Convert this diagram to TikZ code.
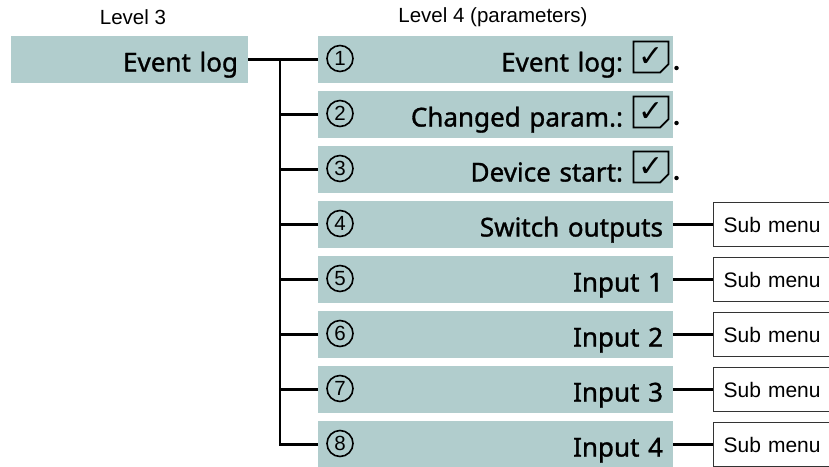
\documentclass[tikz,border=0pt]{standalone}
\usepackage{fontspec}
\setmainfont{Liberation Sans}
\newfontfamily\boxfont[FakeBold=1.2]{Noto Sans}
\newfontfamily\symfont{DejaVu Sans}
\usetikzlibrary{shapes.misc}
\definecolor{menuteal}{RGB}{177,205,205}

\tikzset{
    levelbox/.style={rectangle, fill=menuteal, minimum height=47pt, align=right, inner xsep=10pt, text height=27pt, text depth=3pt, font=\boxfont\fontsize{26}{30}\selectfont},
    parambox/.style={levelbox, text width=335pt},
    numcircle/.style={circle, draw, line width=1.6pt, minimum size=26pt, inner sep=0pt, font=\fontsize{20.5}{24}\selectfont},
    chkbox/.style={chamfered rectangle, chamfered rectangle corners=south east, chamfered rectangle xsep=5pt, draw, line width=1.8pt, minimum width=31pt, minimum height=31pt, inner sep=0pt, font=\symfont\fontsize{30}{32}\selectfont},
    dotmark/.style={circle, fill, minimum size=4.5pt, inner sep=0pt},
    submenu/.style={rectangle, draw=black!80, line width=1.3pt, minimum height=44pt, text width=125pt, inner xsep=10pt, align=left, anchor=west, font=\fontsize{21}{24}\selectfont},
    tree/.style={line width=2.5pt}
}

\begin{document}
\begin{tikzpicture}[x=1pt, y=-1pt]

\clip (0,0) rectangle (829,466);

% Headings
\node[font=\fontsize{20.5}{24}\selectfont] (head3) at (133,17) {Level 3};
\node[font=\fontsize{20.5}{24}\selectfont] (head4) at (493,17) {Level 4 (parameters)};

% Level 3
\node[levelbox, text width=217pt] (ev) at (129.5,59.5) {Event log};

% Level 4
\node[parambox] (p1) at (495.5,59.5)  {Event log:\makebox[40pt]{}};
\node[parambox] (p2) at (495.5,114.5) {Changed param.:\makebox[40pt]{}};
\node[parambox] (p3) at (495.5,169.5) {Device start:\makebox[40pt]{}};
\node[parambox] (p4) at (495.5,224.5) {Switch outputs};
\node[parambox] (p5) at (495.5,279.5) {Input 1};
\node[parambox] (p6) at (495.5,334.5) {Input 2};
\node[parambox] (p7) at (495.5,389.5) {Input 3};
\node[parambox] (p8) at (495.5,444.5) {Input 4};

% Numbers
\node[numcircle] (n1) at (340,58.5)  {1};
\node[numcircle] (n2) at (340,113.5) {2};
\node[numcircle] (n3) at (340,168.5) {3};
\node[numcircle] (n4) at (340,223.5) {4};
\node[numcircle] (n5) at (340,278.5) {5};
\node[numcircle] (n6) at (340,333.5) {6};
\node[numcircle] (n7) at (340,388.5) {7};
\node[numcircle] (n8) at (340,443.5) {8};

% Check boxes
\node[chkbox] (c1) at (651,57)  {✓};
\node[chkbox] (c2) at (651,112) {✓};
\node[chkbox] (c3) at (651,167) {✓};
\node[dotmark] (d1) at (676.5,68)  {};
\node[dotmark] (d2) at (676.5,123) {};
\node[dotmark] (d3) at (676.5,178) {};

% Sub menus
\node[submenu] (s4) at (713,224.5) {Sub menu};
\node[submenu] (s5) at (713,279.5) {Sub menu};
\node[submenu] (s6) at (713,334.5) {Sub menu};
\node[submenu] (s7) at (713,389.5) {Sub menu};
\node[submenu] (s8) at (713,444.5) {Sub menu};

% Tree
\coordinate (fork) at (280,59.5);
\draw[tree] (ev.east) -- (p1.west);
\draw[tree] (fork) |- (p2.west);
\draw[tree] (fork) |- (p3.west);
\draw[tree] (fork) |- (p4.west);
\draw[tree] (fork) |- (p5.west);
\draw[tree] (fork) |- (p6.west);
\draw[tree] (fork) |- (p7.west);
\draw[tree] (fork) |- (p8.west);

\draw[tree] (p4.east) -- (s4.west);
\draw[tree] (p5.east) -- (s5.west);
\draw[tree] (p6.east) -- (s6.west);
\draw[tree] (p7.east) -- (s7.west);
\draw[tree] (p8.east) -- (s8.west);

\end{tikzpicture}
\end{document}
